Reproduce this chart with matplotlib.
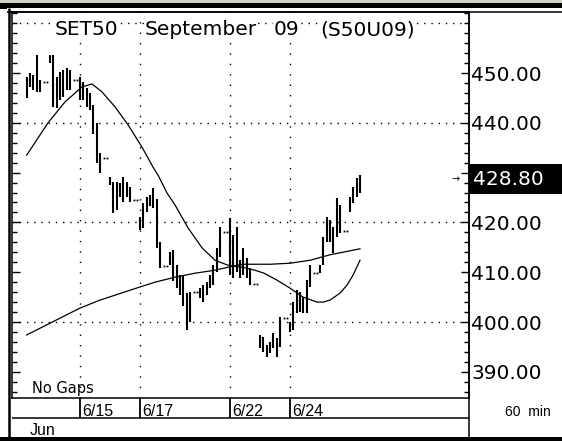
import matplotlib
matplotlib.use("Agg")
import matplotlib.pyplot as plt
from matplotlib.lines import Line2D
from matplotlib.patches import Rectangle
from matplotlib.ticker import MultipleLocator, FixedLocator
import matplotlib.transforms as mtransforms

# ---------------- data ----------------
bar_slot = [0, 1, 2, 3, 4,
            7, 8, 9, 10, 11, 12, 13,
            16, 17, 18, 19, 20, 21, 22,
            25, 26, 27, 28, 29, 30, 31,
            34, 35, 36, 37, 38, 39, 40,
            43, 44, 45, 46, 47, 48, 49,
            52, 53, 54, 55, 56, 57, 58,
            61, 62, 63, 64, 65, 66, 67,
            70, 71, 72, 73, 74, 75, 76,
            79, 80, 81, 82, 83, 84, 85,
            88, 89, 90, 91, 92, 93, 94,
            97, 98, 99, 100]
bar_high = [449.2, 450.0, 449.6, 453.6, 448.6,
            453.6, 453.6, 449.2, 450.2, 450.6, 451.0, 450.6,
            449.2, 448.2, 447.0, 446.0, 443.6, 440.0, 433.9,
            429.1, 428.1, 428.1, 427.9, 429.1, 428.1, 427.1,
            421.1, 423.9, 425.1, 425.5, 426.9, 424.7, 416.1,
            414.1, 414.5, 411.4, 409.4, 409.4, 405.8, 406.0,
            406.8, 407.4, 408.0, 409.4, 411.4, 414.9, 419.1,
            420.9, 417.5, 419.1, 412.4, 414.9, 412.9, 410.8,
            397.4, 397.0, 395.4, 396.0, 397.8, 396.8, 401.0,
            400.0, 404.0, 406.4, 406.0, 405.0, 408.4, 411.4,
            411.4, 417.1, 421.1, 420.5, 419.1, 424.9, 423.5,
            425.1, 427.1, 428.9, 429.5]
bar_low = [445.0, 447.2, 446.6, 446.2, 446.2,
           452.0, 443.2, 443.0, 444.6, 445.2, 446.6, 446.6,
           444.6, 444.6, 443.2, 442.6, 437.8, 431.9, 429.9,
           427.5, 421.9, 422.5, 425.1, 424.1, 425.1, 424.1,
           418.5, 418.9, 422.1, 423.3, 422.9, 414.9, 410.8,
           411.4, 408.2, 406.8, 405.4, 403.3, 398.4, 400.0,
           404.8, 404.0, 405.4, 406.8, 407.4, 410.0, 413.1,
           409.4, 408.8, 410.0, 408.8, 409.4, 408.8, 407.4,
           394.8, 394.0, 393.0, 393.8, 394.8, 393.0, 395.0,
           398.0, 398.4, 401.8, 402.0, 401.8, 401.8, 407.0,
           409.8, 411.4, 416.1, 416.1, 413.9, 417.1, 417.9,
           422.1, 423.9, 425.1, 425.9]

flat_slot = [5.5, 14.5, 23.5, 32.5, 41.5, 50.5, 59.5, 68.5, 77.5, 86.5, 95.5]
flat_price = [448.2, 448.6, 432.9, 424.5, 411.2, 406.0, 418.1, 407.6, 400.8, 409.8, 418.3]

ma_fast_slot = [0, 6.4, 11.5, 16.6, 19.6, 22.6, 26.5, 30.4, 34.6, 37.9, 39.4, 42.1,
                44.5, 48.4, 52.6, 56.5, 60.4, 64.6, 68.5, 71.2, 75.1, 79, 82.9,
                87.1, 89, 91, 94, 96.1, 97.9, 100]
ma_fast_val = [433.5, 440.0, 444.2, 447.2, 447.8, 446.2, 443.2, 439.6, 435.1, 431.1,
               429.5, 425.9, 423.5, 418.9, 414.9, 412.4, 411.4, 411.0, 410.4, 409.8,
               408.4, 406.8, 405.0, 404.0, 404.0, 404.4, 405.8, 407.4, 409.4, 412.4]

ma_slow_slot = [0, 16, 22, 32, 38.5, 44.5, 50.5, 56.5, 60.4, 64.6, 67, 73, 79, 85, 91, 97, 100]
ma_slow_val = [397.4, 402.8, 404.4, 406.6, 408.0, 409.0, 409.8, 410.4, 411.0, 411.6,
               411.6, 411.6, 411.8, 412.4, 413.5, 414.3, 414.7]

day_slots = [16, 34, 61, 79]
day_labels = ["6/15", "6/17", "6/22", "6/24"]
month_label = "Jun"
price_ticks = [390, 400, 410, 420, 430, 440, 450]
hidden_ticks = [430]          # covered by the last-price box
grid_levels = [400, 420, 440, 460]
last_price = 428.80
title_words = ["SET50", "September", "09", "(S50U09)"]
note_text = "No Gaps"
interval_text = "60  min"

# ---------------- layout ----------------
W, H = 562, 441
fig = plt.figure(figsize=(W / 100, H / 100), dpi=100)
fig.patch.set_facecolor("white")


def fx(px):
    return px / W


def fy(py):
    return 1 - py / H


L, R, T, B = 12, 469, 12, 398
ax = fig.add_axes([fx(L), fy(B), (R - L) / W, (B - T) / H])
ax.set_xlim(-4.41, 132.7)
ax.set_ylim(384.74, 462.25)
ax.set_facecolor("white")

# grid
for g in grid_levels:
    ax.axhline(g, color="black", lw=1.0, ls=(0, (1, 4.2)), dash_capstyle="butt", zorder=1)
for s in day_slots:
    ax.axvline(s, color="black", lw=1.0, ls=(0, (1, 6.5)), dash_capstyle="butt", zorder=1)

# bars
ax.vlines(bar_slot, bar_low, bar_high, color="black", lw=1.5, zorder=3)
fx_l = [s - 0.45 for s in flat_slot] + [s + 0.45 for s in flat_slot]
fp_l = flat_price + flat_price
ax.plot(fx_l, fp_l, ls="none", marker="s", ms=1.3, mew=0, color="black", zorder=3)

# moving averages
ax.plot(ma_fast_slot, ma_fast_val, color="black", lw=0.9, zorder=2)
ax.plot(ma_slow_slot, ma_slow_val, color="black", lw=0.9, zorder=2)

# axes styling
for sp in ax.spines.values():
    sp.set_linewidth(1.1)
ax.set_xticks([])
ax.yaxis.set_major_locator(FixedLocator(price_ticks))
ax.yaxis.set_minor_locator(MultipleLocator(2))
ax.set_yticklabels(["" if v in hidden_ticks else f"{v:.2f}" for v in price_ticks])
ax.tick_params(axis="y", which="both", direction="in", left=True, right=True,
               labelleft=False, labelright=True, width=1.0)
ax.tick_params(axis="y", which="major", length=6, pad=1.5, labelsize=14.5)
ax.tick_params(axis="y", which="minor", length=3.6)
for lab in ax.get_yticklabels():
    lab.set_fontfamily("DejaVu Sans")

# title words over the top dotted grid line
title_px = [55, 145, 274, 320]
for w, p in zip(title_words, title_px):
    fig.text(fx(p), fy(35), w, fontsize=14.5, va="baseline", ha="left",
             family="DejaVu Sans",
             bbox=dict(fc="white", ec="none", pad=0.6), zorder=5)

fig.text(fx(32), fy(393), note_text, fontsize=10.5, va="baseline", ha="left",
         family="DejaVu Sans")

# time axis row
ax_t = fig.add_axes([fx(L), fy(418), (R - L) / W, 20 / H])
ax_t.set_xlim(ax.get_xlim())
ax_t.set_ylim(0, 1)
ax_t.axis("off")
ax_t.vlines(day_slots, 0, 1, color="black", lw=1.3)
trans = mtransforms.blended_transform_factory(ax_t.transData, ax_t.transAxes)
for s, lab in zip(day_slots, day_labels):
    ax_t.text(s + 0.6, 0.1, lab, transform=trans, fontsize=11.5, va="baseline",
              ha="left", family="Liberation Sans")

fig.text(fx(30), fy(435), month_label, fontsize=11.5, va="baseline", ha="left",
         family="Liberation Sans")
fig.text(fx(505), fy(416), interval_text, fontsize=10, va="baseline", ha="left",
         family="Liberation Sans")

# frame lines
def fline(x0, y0, x1, y1, lw=1.0):
    fig.add_artist(Line2D([fx(x0), fx(x1)], [fy(y0), fy(y1)], color="black",
                          lw=lw, transform=fig.transFigure, solid_capstyle="butt"))

fig.add_artist(Rectangle((0, fy(3)), 1, 3 / H, transform=fig.transFigure,
                         fc="#d4d0c8", ec="none"))
fig.add_artist(Rectangle((0, fy(7.5)), 1, 4.5 / H, transform=fig.transFigure,
                         fc="black", ec="none"))
fig.add_artist(Rectangle((0, fy(8.5)), fx(7), 5 / H, transform=fig.transFigure,
                         fc="black", ec="none"))
fig.add_artist(Rectangle((0, 0), 1, 4 / H, transform=fig.transFigure,
                         fc="black", ec="none"))
fline(8.5, 8, 8.5, 441, lw=1.8)
fline(7, 12, 562, 12, lw=1.1)
fline(12, 418, 469, 418, lw=1.1)
fline(469, 12, 469, 441, lw=1.1)

# last price marker
fig.add_artist(Rectangle((fx(469.5), fy(194)), (562 - 469.5) / W, 30 / H,
                         transform=fig.transFigure, fc="black", ec="none", zorder=4))
fig.text(fx(473), fy(179), f"{last_price:.2f}", color="white", fontsize=14.5,
         va="center", ha="left", family="DejaVu Sans", zorder=5)
fig.text(fx(451), fy(179), "\u2192", fontsize=7, va="center", ha="left",
         family="DejaVu Sans")

fig.savefig("out.png", dpi=100, facecolor="white")
